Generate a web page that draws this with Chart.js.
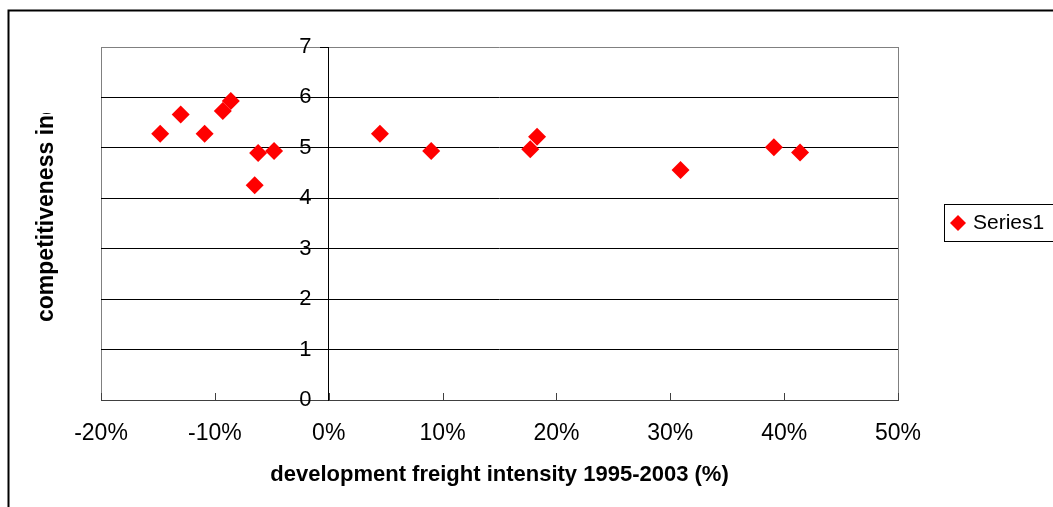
<!DOCTYPE html>
<html>
<head>
<meta charset="utf-8">
<script src="https://cdn.jsdelivr.net/npm/chart.js@4.4.1/dist/chart.umd.min.js"></script>
<style>
  html, body { margin: 0; padding: 0; background: #fff; }
  #wrap { width: 1053px; height: 507px; position: relative; }
</style>
</head>
<body>
<div id="wrap"><canvas id="chart"></canvas></div>
<script>
// freight intensity development 1995-2003 (%) vs competitiveness index
const freightDev = [-14.8, -13.0, -10.9, -9.3, -8.6, -6.2, -4.8, -6.5, 4.5, 9.0, 17.7, 18.3, 30.9, 39.1, 41.4];
const competitiveness = [5.28, 5.66, 5.28, 5.73, 5.93, 4.90, 4.94, 4.26, 5.28, 4.94, 4.97, 5.22, 4.56, 5.01, 4.91];
const seriesName = 'Series1';
const xTitle = 'development freight intensity 1995-2003 (%)';
const yTitle = 'competitiveness index';

const FONT = '"Liberation Sans", Arial, sans-serif';

const points = freightDev.map((x, i) => ({ x, y: competitiveness[i] }));

// outer frame, y title (clipped like the original) and legend box
const decorPlugin = {
  id: 'decor',
  beforeDraw(chart) {
    const { ctx } = chart;
    ctx.save();
    ctx.fillStyle = '#fff';
    ctx.fillRect(0, 0, chart.width, chart.height);
    ctx.strokeStyle = '#000';
    ctx.lineWidth = 2;
    ctx.strokeRect(8.5, 10.5, 1200, 600);
    ctx.restore();
  },
  afterDraw(chart) {
    const { ctx } = chart;
    ctx.save();
    // y axis title, cut off at the top
    ctx.beginPath();
    ctx.rect(20, 113, 60, 300);
    ctx.clip();
    ctx.translate(47, 322);
    ctx.rotate(-Math.PI / 2);
    ctx.font = 'bold 23px ' + FONT;
    ctx.fillStyle = '#000';
    ctx.textAlign = 'left';
    ctx.textBaseline = 'middle';
    ctx.fillText(yTitle, 0, 0);
    ctx.restore();

    // small inward tick marks on the x axis
    const xs = chart.scales.x;
    const bottom = chart.chartArea.bottom;
    ctx.save();
    ctx.strokeStyle = '#404040';
    ctx.lineWidth = 1;
    xs.ticks.forEach(t => {
      const px = Math.round(xs.getPixelForValue(t.value)) + 0.5;
      ctx.beginPath();
      ctx.moveTo(px, bottom);
      ctx.lineTo(px, bottom - 7);
      ctx.stroke();
    });
    ctx.restore();

    // legend
    ctx.save();
    ctx.strokeStyle = '#000';
    ctx.lineWidth = 1;
    ctx.strokeRect(944.5, 204.5, 140, 37);
    const cx = 958, cy = 223, r = 8;
    ctx.fillStyle = '#ff0000';
    ctx.beginPath();
    ctx.moveTo(cx - r, cy);
    ctx.lineTo(cx, cy - r);
    ctx.lineTo(cx + r, cy);
    ctx.lineTo(cx, cy + r);
    ctx.closePath();
    ctx.fill();
    ctx.fillStyle = '#000';
    ctx.font = '21px ' + FONT;
    ctx.textAlign = 'left';
    ctx.textBaseline = 'middle';
    ctx.fillText(seriesName, 973, 223);
    ctx.restore();
  }
};

new Chart(document.getElementById('chart'), {
  type: 'scatter',
  data: {
    datasets: [{
      label: seriesName,
      data: points,
      pointStyle: 'rectRot',
      pointRadius: 9,
      pointHoverRadius: 9,
      pointBackgroundColor: '#ff0000',
      pointBorderWidth: 0,
      borderWidth: 0
    }]
  },
  options: {
    responsive: true,
    maintainAspectRatio: false,
    animation: false,
    events: [],
    layout: { padding: { left: 101, right: 155, top: 47, bottom: 0 } },
    scales: {
      x: {
        type: 'linear',
        position: 'bottom',
        min: -20,
        max: 50,
        ticks: {
          stepSize: 10,
          padding: 20,
          color: '#000',
          font: { family: FONT, size: 23 },
          callback: v => v + '%'
        },
        grid: {
          drawTicks: false,
          color: ctx => (ctx.tick && (ctx.tick.value === -20 || ctx.tick.value === 50)) ? '#808080' : 'rgba(0,0,0,0)'
        },
        border: { display: true, color: '#404040', width: 1 },
        title: {
          display: true,
          text: xTitle,
          color: '#000',
          font: { family: FONT, size: 22, weight: 'bold' },
          padding: { top: 0, bottom: 19 }
        },
        afterFit: s => { s.height = 107; }
      },
      y: {
        type: 'linear',
        position: { x: 0 },
        min: 0,
        max: 7,
        ticks: {
          stepSize: 1,
          color: '#000',
          font: { family: FONT, size: 22 },
          // axis placed at x = 0 ignores tick padding, so pad the label itself
          callback: v => v + '\u2002 '
        },
        grid: {
          drawTicks: true,
          tickLength: 8,
          tickColor: '#000',
          color: ctx => {
            const v = ctx.tick ? ctx.tick.value : null;
            if (v === 7) return '#808080';
            if (v === 0) return '#404040';
            return '#000';
          }
        },
        border: { display: true, color: '#000', width: 1 }
      }
    },
    plugins: {
      legend: { display: false },
      tooltip: { enabled: false }
    }
  },
  plugins: [decorPlugin]
});
</script>
</body>
</html>
